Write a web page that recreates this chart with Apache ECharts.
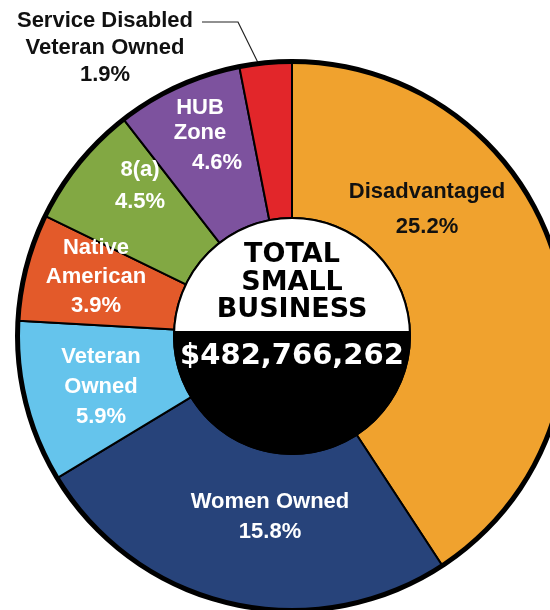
<!DOCTYPE html>
<html><head><meta charset="utf-8">
<script src="https://cdn.jsdelivr.net/npm/echarts@6/dist/echarts.min.js"></script>
<style>html,body{margin:0;padding:0;background:#fff}#c{width:550px;height:610px}</style>
</head><body><div id="c"></div>
<script>
// ---- data ----
const categories = ['Disadvantaged','Women Owned','Veteran Owned','Native American','8(a)','HUB Zone','Service Disabled Veteran Owned'];
const labelNames = ['Disadvantaged','Women Owned','Veteran\nOwned','Native\nAmerican','8(a)','HUB\nZone','Service Disabled\nVeteran Owned'];
const shares = [25.2, 15.8, 5.9, 3.9, 4.5, 4.6, 1.9];
const colors = ['#F0A22E','#27437A','#65C4EC','#E35A2A','#82A843','#7D529E','#E2262A'];
const centerTitle = ['TOTAL','SMALL','BUSINESS'];
const centerTotal = '$482,766,262';

// ---- layout / style ----
const CX = 292, CY = 336, R_OUT = 274, R_IN = 118, DIVIDE_Y = 331;
const labelPos = [[427,209],[270,517],[101,387],[96,277],[140,186],[200,138],[105,48]];
const labelLH = [35,30,30,29,32,25,27];
const labelColor = ['#111','#fff','#fff','#fff','#fff','#fff','#111'];
const LABEL_FONT = '"Liberation Sans", Arial, sans-serif';
const CENTER_FONT = '"DejaVu Sans", sans-serif';

const data = categories.map((c, i) => {
  const item = {
    name: c,
    value: shares[i],
    itemStyle: { color: colors[i] },
    label: {
      color: labelColor[i],
      lineHeight: labelLH[i]
    }
  };
  if (c === 'HUB Zone') {
    item.label.formatter = p => labelNames[i].split('\n').map(s => '{a|' + s + '}').join('\n') + '\n{p|' + p.value + '%}';
    item.label.rich = {
      a: { color: '#fff', fontSize: 22, fontWeight: 'bold', fontFamily: LABEL_FONT, lineHeight: 25 },
      p: { color: '#fff', fontSize: 22, fontWeight: 'bold', fontFamily: LABEL_FONT, lineHeight: 36, padding: [0,0,0,34] }
    };
  }
  if (i === categories.length - 1) {
    item.label.position = 'outside';
    item.labelLine = { show: true, lineStyle: { color: '#222', width: 1.2 } };
  }
  return item;
});

// lower black segment of the centre disc
const segPts = [];
const t0 = Math.asin((DIVIDE_Y - CY) / R_IN);
for (let k = 0; k <= 120; k++) {
  const t = t0 + (Math.PI - 2 * t0) * k / 120;
  segPts.push([CX + R_IN * Math.cos(t), CY + R_IN * Math.sin(t)]);
}

const centerY = [255, 283, 310];
const graphic = [
  { type: 'circle', z: 100, shape: { cx: CX, cy: CY, r: R_IN }, style: { fill: '#fff', stroke: '#000', lineWidth: 2 } },
  { type: 'polygon', z: 101, shape: { points: segPts }, style: { fill: '#000' } }
];
centerTitle.forEach((t, i) => graphic.push({
  type: 'text', z: 102, x: CX, y: centerY[i],
  style: { text: t, font: 'bold 27px ' + CENTER_FONT, fill: '#000', align: 'center', verticalAlign: 'middle' }
}));
graphic.push({
  type: 'text', z: 102, x: CX, y: 356,
  style: { text: centerTotal, font: 'bold 29px ' + CENTER_FONT, fill: '#fff', align: 'center', verticalAlign: 'middle' }
});

const chart = echarts.init(document.getElementById('c'));
chart.setOption({
  animation: false,
  backgroundColor: '#fff',
  graphic: graphic,
  series: [
    {
      type: 'pie',
      center: [CX, CY],
      radius: [R_IN, R_OUT],
      startAngle: 90,
      clockwise: true,
      silent: true,
      emphasis: { disabled: true },
      itemStyle: { borderColor: '#000', borderWidth: 2 },
      label: {
        show: true,
        position: 'inside',
        formatter: p => labelNames[p.dataIndex] + '\n' + p.value + '%',
        fontFamily: LABEL_FONT,
        fontWeight: 'bold',
        fontSize: 22,
        align: 'center'
      },
      labelLayout: function (params) {
        const i = params.dataIndex;
        const r = { x: labelPos[i][0], y: labelPos[i][1], align: 'center', verticalAlign: 'middle' };
        if (i === categories.length - 1) r.labelLinePoints = [[268, 83], [238, 22], [202, 22]];
        return r;
      },
      data: data
    },
    {
      type: 'pie',
      center: [CX, CY],
      radius: [R_OUT - 2, R_OUT + 3],
      silent: true,
      emphasis: { disabled: true },
      label: { show: false },
      labelLine: { show: false },
      itemStyle: { color: '#000' },
      data: [{ name: 'outline', value: 1 }]
    }
  ]
});
</script>
</body></html>
